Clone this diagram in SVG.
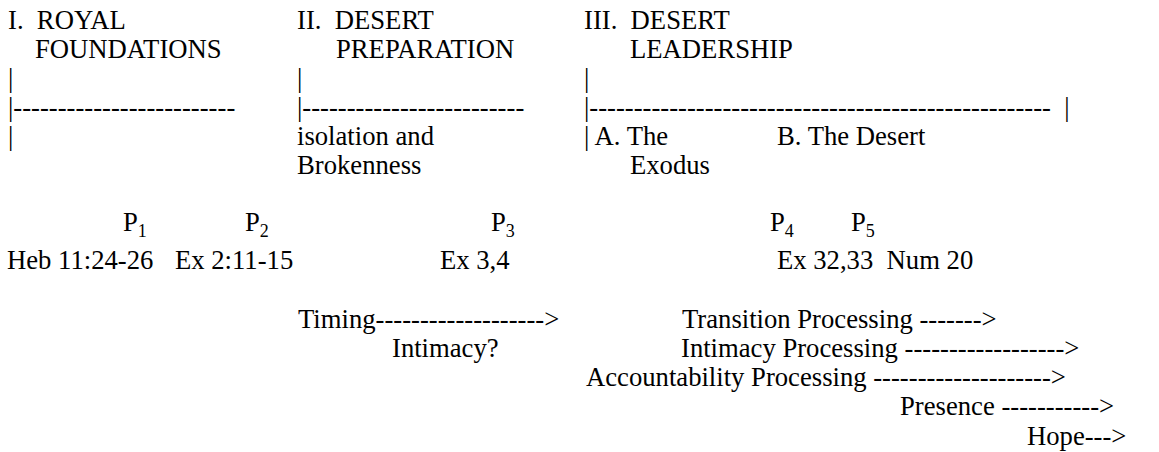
<svg xmlns="http://www.w3.org/2000/svg" width="1159" height="452" viewBox="0 0 1159 452" xml:space="preserve">
<style>
text{font-family:"Liberation Serif","Times New Roman",serif;font-size:26.67px;fill:#000;white-space:pre}
.sub{font-size:18px}
</style>
<rect width="1159" height="452" fill="#fff"/>
<g id="stage1">
<text x="8" y="29">I.  ROYAL</text>
<text x="35" y="58">FOUNDATIONS</text>
<text x="8" y="87">|</text>
<text x="8" y="116">|-------------------------</text>
<text x="8" y="145">|</text>
</g>
<g id="stage2">
<text x="297" y="29">II.  DESERT</text>
<text x="336" y="58">PREPARATION</text>
<text x="297" y="87">|</text>
<text x="297" y="116">|-------------------------</text>
<text x="297" y="145">isolation and</text>
<text x="297" y="174">Brokenness</text>
</g>
<g id="stage3">
<text x="584" y="29">III.  DESERT</text>
<text x="630" y="58">LEADERSHIP</text>
<text x="584" y="87">|</text>
<text x="584" y="116">|----------------------------------------------------  |</text>
<text x="584" y="145">| A. The</text>
<text x="630" y="174">Exodus</text>
<text x="777" y="145">B. The Desert</text>
</g>
<g id="passages">
<text x="123" y="231">P<tspan class="sub" dy="6">1</tspan></text>
<text x="245" y="231">P<tspan class="sub" dy="6">2</tspan></text>
<text x="491" y="231">P<tspan class="sub" dy="6">3</tspan></text>
<text x="770" y="231">P<tspan class="sub" dy="6">4</tspan></text>
<text x="851" y="231">P<tspan class="sub" dy="6">5</tspan></text>
<text x="7" y="269">Heb 11:24-26</text>
<text x="175" y="269">Ex 2:11-15</text>
<text x="440" y="269">Ex 3,4</text>
<text x="777" y="269">Ex 32,33  Num 20</text>
</g>
<g id="connectors">
<text x="298" y="328">Timing-------------------&gt;</text>
<text x="392" y="357">Intimacy?</text>
<text x="682" y="328">Transition Processing -------&gt;</text>
<text x="681" y="357">Intimacy Processing ------------------&gt;</text>
<text x="586" y="386">Accountability Processing --------------------&gt;</text>
<text x="900" y="415">Presence -----------&gt;</text>
<text x="1027" y="445">Hope---&gt;</text>
</g>
</svg>
